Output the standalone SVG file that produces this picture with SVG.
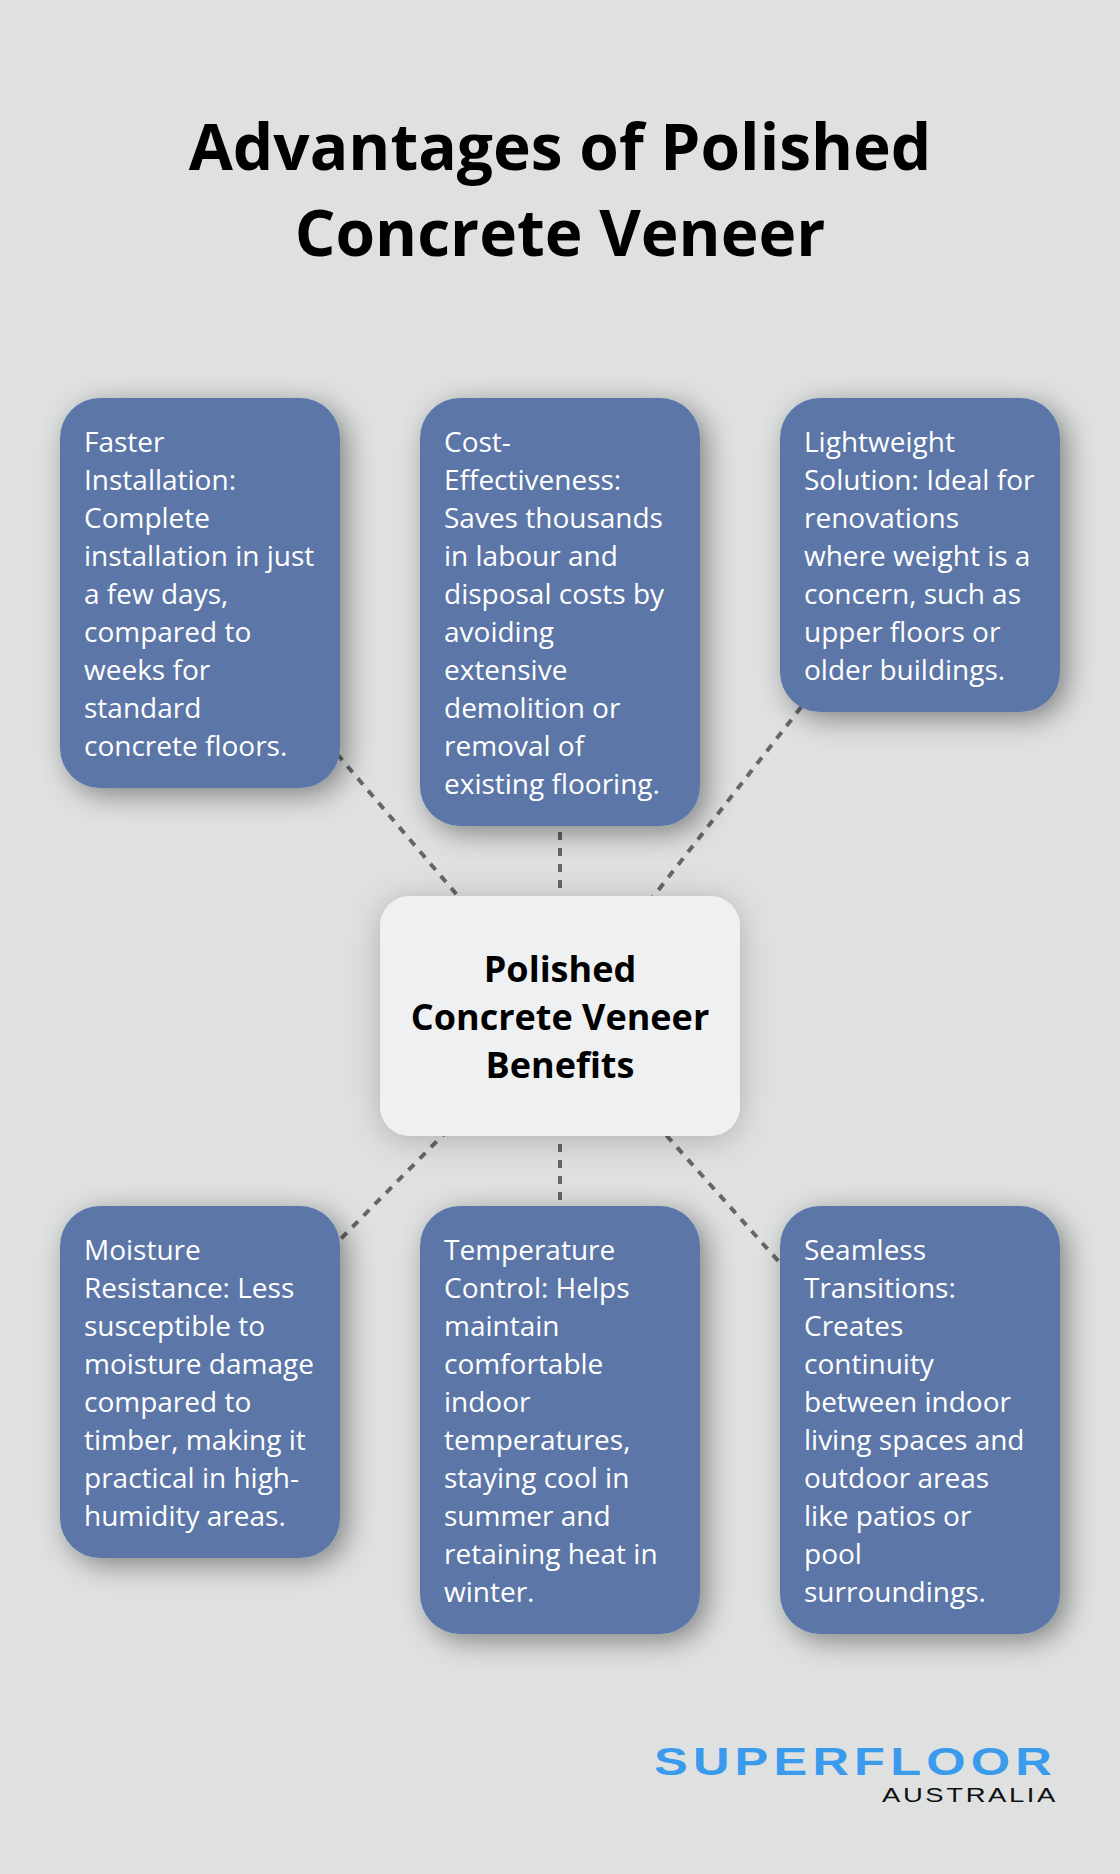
<svg xmlns="http://www.w3.org/2000/svg" width="1120" height="1874" viewBox="0 0 1120 1874">
<style>
.n{fill:#5b76a8;filter:url(#s)}
.c{fill:#eff0f2;filter:url(#s2)}
.t{font-family:"Open Sans",sans-serif;font-size:28px;fill:#fff}
.l{stroke:#666;stroke-width:4;stroke-dasharray:8 8;fill:none}
.h{font-family:"Open Sans",sans-serif;font-weight:700;font-size:64px;fill:#000;text-anchor:middle}
.m{font-family:"Open Sans",sans-serif;font-weight:700;font-size:36px;fill:#000;text-anchor:middle}
</style>
<defs>
<filter id="s" x="-30%" y="-30%" width="160%" height="160%"><feDropShadow dx="7" dy="7" stdDeviation="14" flood-color="#000" flood-opacity=".42"/></filter>
<filter id="s2" x="-30%" y="-30%" width="160%" height="160%"><feDropShadow dx="0" dy="4" stdDeviation="16" flood-color="#000" flood-opacity=".22"/></filter>
</defs>
<rect width="1120" height="1874" fill="#dfe1e1"/>
<g id="title"><text class="h"><tspan x="560" y="170">Advantages of Polished</tspan><tspan x="560" y="256">Concrete Veneer</tspan></text></g>
<g id="connectors">
<line class="l" x1="560" y1="1016" x2="200" y2="593"/>
<line class="l" x1="560" y1="1016" x2="560" y2="612"/>
<line class="l" x1="560" y1="1016" x2="920" y2="555"/>
<line class="l" x1="560" y1="1016" x2="200" y2="1382"/>
<line class="l" x1="560" y1="1016" x2="560" y2="1420"/>
<line class="l" x1="560" y1="1016" x2="920" y2="1420"/>
</g>
<g id="node1"><rect class="n" x="60" y="398" width="280" height="390" rx="40"/><text class="t"><tspan x="84" y="452">Faster</tspan><tspan x="84" y="490">Installation:</tspan><tspan x="84" y="528">Complete</tspan><tspan x="84" y="566">installation in just</tspan><tspan x="84" y="604">a few days,</tspan><tspan x="84" y="642">compared to</tspan><tspan x="84" y="680">weeks for</tspan><tspan x="84" y="718">standard</tspan><tspan x="84" y="756">concrete floors.</tspan></text></g>
<g id="node2"><rect class="n" x="420" y="398" width="280" height="428" rx="40"/><text class="t"><tspan x="444" y="452">Cost-</tspan><tspan x="444" y="490">Effectiveness:</tspan><tspan x="444" y="528">Saves thousands</tspan><tspan x="444" y="566">in labour and</tspan><tspan x="444" y="604">disposal costs by</tspan><tspan x="444" y="642">avoiding</tspan><tspan x="444" y="680">extensive</tspan><tspan x="444" y="718">demolition or</tspan><tspan x="444" y="756">removal of</tspan><tspan x="444" y="794">existing flooring.</tspan></text></g>
<g id="node3"><rect class="n" x="780" y="398" width="280" height="314" rx="40"/><text class="t"><tspan x="804" y="452">Lightweight</tspan><tspan x="804" y="490">Solution: Ideal for</tspan><tspan x="804" y="528">renovations</tspan><tspan x="804" y="566">where weight is a</tspan><tspan x="804" y="604">concern, such as</tspan><tspan x="804" y="642">upper floors or</tspan><tspan x="804" y="680">older buildings.</tspan></text></g>
<g id="center"><rect class="c" x="380" y="896" width="360" height="240" rx="30"/><text class="m"><tspan x="560" y="982">Polished</tspan><tspan x="560" y="1030">Concrete Veneer</tspan><tspan x="560" y="1078">Benefits</tspan></text></g>
<g id="node4"><rect class="n" x="60" y="1206" width="280" height="352" rx="40"/><text class="t"><tspan x="84" y="1260">Moisture</tspan><tspan x="84" y="1298">Resistance: Less</tspan><tspan x="84" y="1336">susceptible to</tspan><tspan x="84" y="1374">moisture damage</tspan><tspan x="84" y="1412">compared to</tspan><tspan x="84" y="1450">timber, making it</tspan><tspan x="84" y="1488">practical in high-</tspan><tspan x="84" y="1526">humidity areas.</tspan></text></g>
<g id="node5"><rect class="n" x="420" y="1206" width="280" height="428" rx="40"/><text class="t"><tspan x="444" y="1260">Temperature</tspan><tspan x="444" y="1298">Control: Helps</tspan><tspan x="444" y="1336">maintain</tspan><tspan x="444" y="1374">comfortable</tspan><tspan x="444" y="1412">indoor</tspan><tspan x="444" y="1450">temperatures,</tspan><tspan x="444" y="1488">staying cool in</tspan><tspan x="444" y="1526">summer and</tspan><tspan x="444" y="1564">retaining heat in</tspan><tspan x="444" y="1602">winter.</tspan></text></g>
<g id="node6"><rect class="n" x="780" y="1206" width="280" height="428" rx="40"/><text class="t"><tspan x="804" y="1260">Seamless</tspan><tspan x="804" y="1298">Transitions:</tspan><tspan x="804" y="1336">Creates</tspan><tspan x="804" y="1374">continuity</tspan><tspan x="804" y="1412">between indoor</tspan><tspan x="804" y="1450">living spaces and</tspan><tspan x="804" y="1488">outdoor areas</tspan><tspan x="804" y="1526">like patios or</tspan><tspan x="804" y="1564">pool</tspan><tspan x="804" y="1602">surroundings.</tspan></text></g>
<g id="logo">
<text x="654" y="1775" font-family="Liberation Sans,sans-serif" font-weight="700" font-size="39" letter-spacing="4" fill="#3a9aec" textLength="403" lengthAdjust="spacingAndGlyphs">SUPERFLOOR</text>
<text x="882" y="1802" font-family="Liberation Sans,sans-serif" font-size="21" letter-spacing="2" fill="#111" textLength="176" lengthAdjust="spacingAndGlyphs">AUSTRALIA</text>
</g>
</svg>
